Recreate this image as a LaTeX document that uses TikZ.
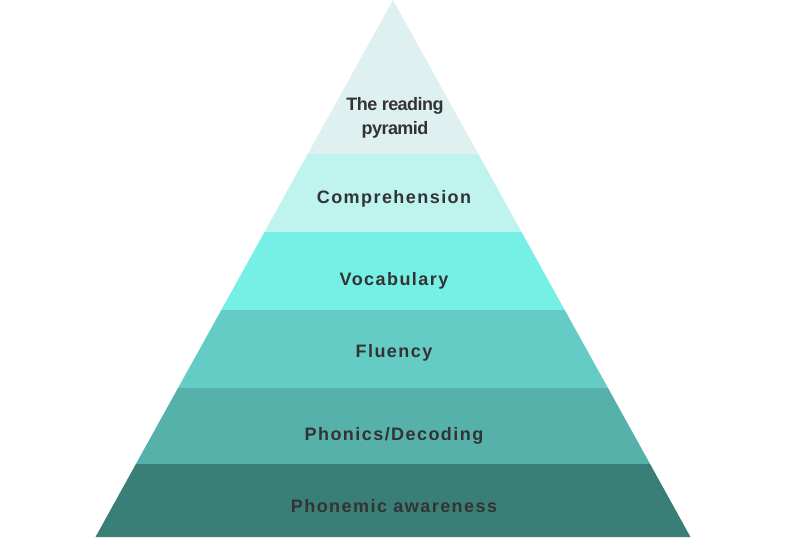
\documentclass[tikz,border=0pt]{standalone}
\usepackage{fontspec}
\setmainfont{Liberation Sans}
\newfontfamily\spacedfont[LetterSpace=8]{Liberation Sans}
\newfontfamily\tightfont[LetterSpace=-3]{Liberation Sans}
\usepackage{tikz}

\definecolor{toplayer}{HTML}{DFF0F0}
\definecolor{comprlayer}{HTML}{BEF3EE}
\definecolor{vocablayer}{HTML}{76EFE5}
\definecolor{fluentlayer}{HTML}{64CCC5}
\definecolor{phonicslayer}{HTML}{56B1AA}
\definecolor{awarelayer}{HTML}{3A7E78}
\definecolor{labeltext}{HTML}{333333}

\begin{document}
\begin{tikzpicture}[x=1pt, y=-1pt,
  every node/.style={text=labeltext, font=\fontsize{18}{22}\selectfont\bfseries\spacedfont}]
  \useasboundingbox (0,0) rectangle (800,543);
  \fill[toplayer]     (393,0)     -- (478.3,154) -- (307.7,154) -- cycle;
  \fill[comprlayer]   (307.7,154) -- (478.3,154) -- (521.5,232) -- (264.5,232) -- cycle;
  \fill[vocablayer]   (264.5,232) -- (521.5,232) -- (564.7,310) -- (221.3,310) -- cycle;
  \fill[fluentlayer]  (221.3,310) -- (564.7,310) -- (608,388)   -- (178,388)   -- cycle;
  \fill[phonicslayer] (178,388)   -- (608,388)   -- (650.1,464) -- (135.9,464) -- cycle;
  \fill[awarelayer]   (135.9,464) -- (650.1,464) -- (690.5,537) -- (95.5,537)  -- cycle;
  \node[font=\fontsize{18}{24}\selectfont\bfseries\tightfont, align=center] (title) at (395,118) {The reading\\pyramid};
  \node (compr)   at (394,198.5) {Comprehension};
  \node (vocab)   at (394,280.5) {Vocabulary};
  \node (fluency) at (394,352.5) {Fluency};
  \node (phonics) at (394,435.5) {Phonics/Decoding};
  \node (aware)   at (394,506) {Phonemic awareness};
\end{tikzpicture}
\end{document}
